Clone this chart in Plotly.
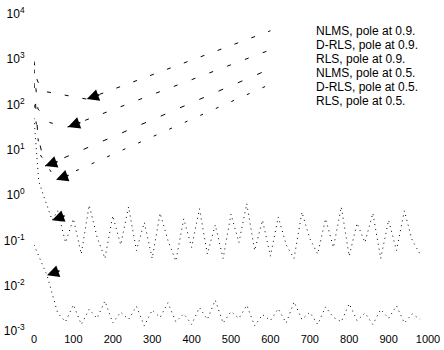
import math
import plotly.graph_objects as go

# ---------------- data ----------------
series_names = [
    "NLMS, pole at 0.9.",
    "D-RLS, pole at 0.9.",
    "RLS, pole at 0.9.",
    "NLMS, pole at 0.5.",
    "D-RLS, pole at 0.5.",
    "RLS, pole at 0.5.",
]

# diverging curves (iteration, error)
nlms09_x = [0, 8, 20, 134, 350, 505, 600]
nlms09_y = [900, 350, 200, 132, 660, 2090, 4260]

drls09_x = [0, 10, 40, 86, 300, 586, 600]
drls09_y = [600, 80, 40, 32, 166, 1450, 1620]

rls09_x = [0, 10, 28, 358, 505, 600]
rls09_y = [300, 20, 4.4, 76, 270, 617]

nlms05_x = [0, 15, 56, 472, 600]
nlms05_y = [100, 8, 2.2, 89, 282]

# steady-state noisy curves
drls05_head_x = [0, 12, 46]
drls05_head_y = [50, 2.0, 0.28]
drls05_tail_y = [0.45, 0.09, 0.30, 0.05, 0.60, 0.12, 0.04, 0.35, 0.08, 0.55,
                 0.06, 0.25, 0.04, 0.40, 0.10, 0.035, 0.30, 0.07, 0.50, 0.05,
                 0.22, 0.04, 0.38, 0.09, 0.65, 0.06, 0.28, 0.045, 0.33, 0.08,
                 0.04, 0.42, 0.11, 0.05, 0.30, 0.07, 0.55, 0.045, 0.24, 0.09,
                 0.40, 0.04, 0.28, 0.06, 0.45, 0.10, 0.05]

rls05_head_x = [0, 20, 33]
rls05_head_y = [0.08, 0.03, 0.017]
rls05_tail_y = [0.0025, 0.0016, 0.0038, 0.0014, 0.0030, 0.0019, 0.0046, 0.0015,
                0.0026, 0.0018, 0.0035, 0.0013, 0.0029, 0.0020, 0.0042, 0.0016,
                0.0024, 0.0014, 0.0033, 0.0018, 0.0048, 0.0015, 0.0027, 0.0019,
                0.0037, 0.0013, 0.0023, 0.0017, 0.0031, 0.0015, 0.0044, 0.0018,
                0.0026, 0.0014, 0.0034, 0.0020, 0.0016, 0.0040, 0.0017, 0.0025,
                0.0014, 0.0030, 0.0019, 0.0036, 0.0015, 0.0024, 0.0018]

tail_x = list(range(60, 60 + 20 * len(drls05_tail_y), 20))

# arrow tips pointing to the curves (iteration, error)
arrow_x = [134, 86, 28, 56, 46, 33]
arrow_y = [132, 32, 4.4, 2.2, 0.28, 0.017]

x_ticks = list(range(0, 1001, 100))
y_exps = list(range(-3, 5))

# ---------------- figure ----------------
curves = [
    (nlms09_x, nlms09_y, "4px,14px"),
    (drls09_x, drls09_y, "4px,15px"),
    (rls09_x, rls09_y, "5px,16px"),
    (nlms05_x, nlms05_y, "3px,14px"),
    (drls05_head_x + tail_x, drls05_head_y + drls05_tail_y, "1px,4px"),
    (rls05_head_x + tail_x, rls05_head_y + rls05_tail_y, "1px,4px"),
]

fig = go.Figure()
for name, (xs, ys, dash) in zip(series_names, curves):
    fig.add_trace(go.Scatter(
        x=xs, y=ys, name=name, mode="lines",
        line=dict(color="black", width=1, dash=dash),
        showlegend=False,
    ))

annotations = []
# legend drawn as text (no sample lines visible in the reference)
for i, name in enumerate(series_names):
    annotations.append(dict(
        x=0.71, y=0.945 - 0.044 * i, xref="paper", yref="paper",
        text=name, showarrow=False, xanchor="left", yanchor="middle",
        font=dict(family="Liberation Sans, Arial, sans-serif", size=12, color="black"),
    ))
# arrows
for ax_, ay_ in zip(arrow_x, arrow_y):
    annotations.append(dict(
        x=ax_, y=math.log10(ay_), xref="x", yref="y", text="",
        showarrow=True, arrowhead=2, arrowsize=1.5, arrowwidth=1.6,
        arrowcolor="black", ax=14, ay=-5, standoff=0,
    ))

fig.update_layout(
    width=444, height=350,
    margin=dict(l=34, r=16, t=14, b=19),
    paper_bgcolor="white", plot_bgcolor="white",
    font=dict(family="Liberation Sans, Arial, sans-serif", size=11, color="black"),
    annotations=annotations,
    showlegend=False,
)
fig.update_xaxes(
    range=[0, 1000], tickvals=x_ticks, ticktext=[str(v) for v in x_ticks],
    showgrid=False, zeroline=False, showline=False,
    ticks="", tickfont=dict(size=11), automargin=False,
)
fig.update_yaxes(
    type="log", range=[-3, 4],
    tickvals=[10 ** e for e in y_exps],
    ticktext=["10<sup>%d</sup>" % e for e in y_exps],
    showgrid=False, zeroline=False, showline=False,
    ticks="outside", ticklen=6, tickcolor="rgba(0,0,0,0)",
    tickfont=dict(size=12), automargin=False,
)

fig.write_html(
    "out.html",
    config={"displayModeBar": False},
    post_script="document.body.style.margin='0';document.body.style.overflow='hidden';",
)
